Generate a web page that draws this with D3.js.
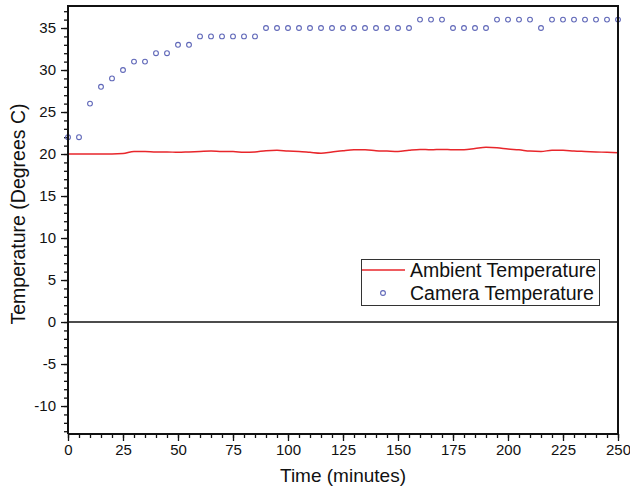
<!DOCTYPE html>
<html>
<head>
<meta charset="utf-8">
<title>Temperature</title>
<script src="https://cdn.jsdelivr.net/npm/d3@7"></script>
<style>
  body { margin: 0; background: #fff; }
  text { font-family: "Liberation Sans", Arial, sans-serif; }
</style>
</head>
<body>
<script>
// time axis (minutes), one reading every 5 minutes
var times = d3.range(0, 251, 5);
// camera temperature, degrees C
var camera = [22, 22, 26, 28, 29, 30, 31, 31, 32, 32, 33, 33,
  34, 34, 34, 34, 34, 34,
  35, 35, 35, 35, 35, 35, 35, 35, 35, 35, 35, 35, 35, 35,
  36, 36, 36,
  35, 35, 35, 35,
  36, 36, 36, 36,
  35,
  36, 36, 36, 36, 36, 36, 36];
// ambient temperature, degrees C
var ambient = [20.0, 20.0, 20.0, 20.0, 20.0, 20.05, 20.3, 20.3, 20.25, 20.25,
  20.2, 20.25, 20.3, 20.35, 20.3, 20.3, 20.2, 20.25, 20.4, 20.45,
  20.35, 20.3, 20.2, 20.1, 20.25, 20.4, 20.5, 20.5, 20.4, 20.35,
  20.3, 20.45, 20.55, 20.5, 20.55, 20.5, 20.5, 20.65, 20.8, 20.75,
  20.6, 20.5, 20.35, 20.3, 20.45, 20.45, 20.35, 20.3, 20.25, 20.2, 20.15];
var xTicks = d3.range(0, 251, 25);
var yTicks = d3.range(-10, 36, 5);
var seriesNames = ["Ambient Temperature", "Camera Temperature"];

var width = 630, height = 491;
var plotL = 68, plotR = 618, plotT = 6, plotB = 434;

var svg = d3.select("body").append("svg")
  .attr("width", width).attr("height", height);

var x = d3.scaleLinear().domain([0, 250]).range([plotL, plotR]);
var y = d3.scaleLinear().domain([-13.33, 37.62]).range([plotB, plotT]);

// y axis with minor ticks
var yMinor = d3.axisLeft(y).tickValues(d3.range(-13, 38, 1)).tickSize(4).tickFormat("");
svg.append("g").attr("transform", "translate(" + plotL + ",0)").call(yMinor)
  .call(function(g) { g.select(".domain").remove(); });
var yAxis = d3.axisLeft(y).tickValues(yTicks).tickSize(7).tickPadding(5)
  .tickFormat(function(d) { return String(d); });
svg.append("g").attr("transform", "translate(" + plotL + ",0)").call(yAxis)
  .call(function(g) {
    g.select(".domain").remove();
    g.selectAll("text").style("font-size", "15px").attr("fill", "#111");
  });

// x axis with minor ticks
var xMinor = d3.axisBottom(x).tickValues(d3.range(0, 251, 5)).tickSize(4).tickFormat("");
svg.append("g").attr("transform", "translate(0," + plotB + ")").call(xMinor)
  .call(function(g) { g.select(".domain").remove(); });
var xAxis = d3.axisBottom(x).tickValues(xTicks).tickSize(7).tickPadding(3);
svg.append("g").attr("transform", "translate(0," + plotB + ")").call(xAxis)
  .call(function(g) {
    g.select(".domain").remove();
    g.selectAll("text").style("font-size", "15px").attr("fill", "#111");
  });
svg.selectAll(".tick line").attr("stroke", "#111").attr("stroke-width", 1.3);

// zero line
svg.append("line")
  .attr("x1", plotL).attr("x2", plotR)
  .attr("y1", y(0)).attr("y2", y(0))
  .attr("stroke", "#111").attr("stroke-width", 1.6);

// ambient line
var line = d3.line()
  .x(function(d, i) { return x(times[i]); })
  .y(function(d) { return y(d); })
  .curve(d3.curveMonotoneX);
svg.append("path").datum(ambient)
  .attr("d", line)
  .attr("fill", "none")
  .attr("stroke", "#e8262b")
  .attr("stroke-width", 1.5);

// camera points
svg.selectAll("circle.cam").data(camera).enter().append("circle")
  .attr("class", "cam")
  .attr("cx", function(d, i) { return x(times[i]); })
  .attr("cy", function(d) { return y(d); })
  .attr("r", 2.4)
  .attr("fill", "none")
  .attr("stroke", "#5f67b8")
  .attr("stroke-width", 1.1);

// frame
svg.append("path")
  .attr("d", "M" + plotL + "," + plotB + "V" + plotT + "H" + plotR + "V" + plotB + "H" + plotL)
  .attr("fill", "none")
  .attr("stroke", "#111")
  .attr("stroke-width", 2);

// legend
var lg = svg.append("g");
lg.append("rect")
  .attr("x", 361.5).attr("y", 259.5).attr("width", 238).attr("height", 46)
  .attr("fill", "#fff").attr("stroke", "#333").attr("stroke-width", 1);
lg.append("line")
  .attr("x1", 362).attr("x2", 405).attr("y1", 270).attr("y2", 270)
  .attr("stroke", "#e8262b").attr("stroke-width", 1.5);
lg.append("circle")
  .attr("cx", 383).attr("cy", 293).attr("r", 2.4)
  .attr("fill", "none").attr("stroke", "#5f67b8").attr("stroke-width", 1.1);
lg.selectAll("text.leg").data(seriesNames).enter().append("text")
  .attr("class", "leg")
  .attr("x", 410)
  .attr("y", function(d, i) { return 277 + i * 23; })
  .style("font-size", "19.5px")
  .attr("fill", "#111")
  .text(function(d) { return d; });

// axis titles
svg.append("text")
  .attr("x", (plotL + plotR) / 2).attr("y", 482)
  .attr("text-anchor", "middle")
  .style("font-size", "19px").attr("fill", "#111")
  .text("Time (minutes)");
svg.append("text")
  .attr("transform", "translate(25,214) rotate(-90)")
  .attr("text-anchor", "middle")
  .style("font-size", "19.5px").attr("fill", "#111")
  .text("Temperature (Degrees C)");
</script>
</body>
</html>
